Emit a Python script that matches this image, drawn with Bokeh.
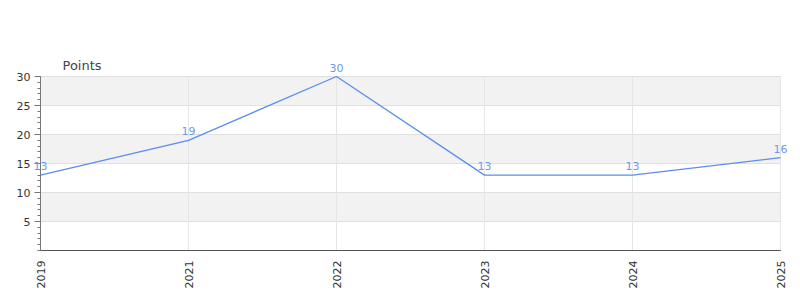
from bokeh.plotting import figure
from bokeh.models import ColumnDataSource, FixedTicker, Label
from bokeh.embed import file_html
from bokeh.resources import INLINE
import math

years = ["2019", "2021", "2022", "2023", "2024", "2025"]
points = [13, 19, 30, 13, 13, 16]
y_ticks = [5, 10, 15, 20, 25, 30]

W, H = 800, 300
# plot area in canvas pixels
FL, FR, FT, FB = 40, 780, 76, 250
xs = list(range(len(years)))
x0, x1 = 0, len(years) - 1
y0, y1 = 0, max(y_ticks)
kx = (FR - FL) / (x1 - x0)
ky = (FB - FT) / (y1 - y0)
xr = (x0 - FL / kx, x1 + (W - FR) / kx)
yr = (y0 - (H - FB) / ky, y1 + FT / ky)

src = ColumnDataSource(dict(x=xs, y=points))

p = figure(width=W, height=H, output_backend="svg", toolbar_location=None,
           x_range=xr, y_range=yr, min_border=0,
           min_border_left=0, min_border_right=0, min_border_top=0, min_border_bottom=0)
p.outline_line_color = None
p.background_fill_color = "white"
p.grid.visible = False

font = "DejaVu Sans"

# bands and grid
p.quad(left=x0, right=x1, bottom=y_ticks[0::2], top=y_ticks[1::2],
       fill_color="#f2f2f2", line_color=None)
p.segment(x0=x0, x1=x1, y0=y_ticks, y1=y_ticks, line_color="#e0e0e0", line_width=1)
p.segment(x0=xs, x1=xs, y0=y0, y1=y1, line_color="#e6e6e6", line_width=1)

# red baseline (under the axis line)
p.segment(x0=[x0], x1=[x1], y0=[y0], y1=[y0], line_color="#dd0000", line_width=1)

p.xaxis.fixed_location = y0
p.xaxis.bounds = (x0, x1)
p.xaxis.ticker = FixedTicker(ticks=xs)
p.xaxis.major_label_overrides = {i: y for i, y in enumerate(years)}
p.xaxis.major_label_orientation = math.pi / 2
p.xaxis.major_label_text_font = font
p.xaxis.major_label_text_font_size = "11px"
p.xaxis.major_label_text_color = "#333333"
p.xaxis.major_tick_line_color = None
p.xaxis.minor_tick_line_color = None
p.xaxis.axis_line_color = "#555555"
p.xaxis.axis_line_width = 1
p.xaxis.major_label_standoff = 4

p.yaxis.fixed_location = x0
p.yaxis.bounds = (y0, y1)
p.yaxis.ticker = FixedTicker(ticks=y_ticks, minor_ticks=list(range(y0, y1 + 1)))
p.yaxis.major_label_text_font = font
p.yaxis.major_label_text_font_size = "11px"
p.yaxis.major_label_text_color = "#333333"
p.yaxis.axis_line_color = "#777777"
p.yaxis.major_tick_line_color = "#777777"
p.yaxis.minor_tick_line_color = "#777777"
p.yaxis.major_tick_in = 0
p.yaxis.major_tick_out = 6
p.yaxis.minor_tick_in = 0
p.yaxis.minor_tick_out = 3
p.yaxis.major_label_standoff = 4

p.line("x", "y", source=src, line_color="#5b8def", line_width=1.3)
for xv, yv in zip(xs, points):
    p.add_layout(Label(x=xv, y=yv, text=str(yv), text_align="center",
                       text_baseline="bottom", y_offset=5,
                       text_font=font, text_font_size="11px", text_color="#6a9bf0"))

# axis title "Points"
p.add_layout(Label(x=x0 + (62 - FL) / kx, y=y1, y_offset=4, text="Points",
                   text_align="left", text_baseline="bottom",
                   text_font=font, text_font_size="13px", text_color="#444444"))

open("out.html", "w").write(file_html(p, INLINE))
